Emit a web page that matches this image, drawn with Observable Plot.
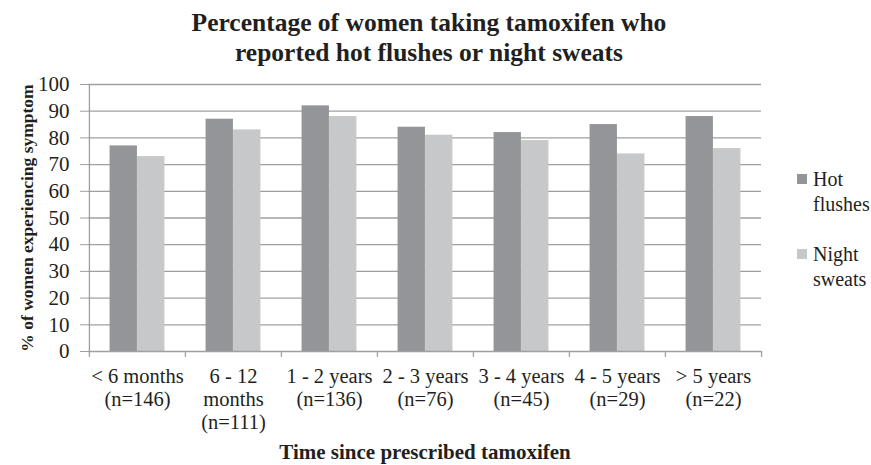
<!DOCTYPE html>
<html><head><meta charset="utf-8">
<script src="https://cdn.jsdelivr.net/npm/d3@7"></script>
<script src="https://cdn.jsdelivr.net/npm/@observablehq/plot@0.6"></script>
<style>
html,body{margin:0;padding:0;overflow:hidden;background:#fff;width:871px;height:465px}
body{font-family:"Liberation Serif","Times New Roman",serif;color:#231f20;position:relative}
#title{height:70px;box-sizing:border-box;padding-top:8px;width:858px;text-align:center;font-weight:bold;font-size:25.5px;line-height:30px}
#legend{position:absolute;left:797px;top:167px;font-size:20px;line-height:25px}
.item{display:flex;align-items:flex-start;margin-bottom:25px}
.sw{width:10px;height:10px;margin-top:7px;margin-right:6px;flex:none}
.lbl{width:70px}
</style></head>
<body>
<div id="title">Percentage of women taking tamoxifen who<br>reported hot flushes or night sweats</div>
<div id="chart"></div>
<div id="legend"></div>
<script>
const categories = ["< 6 months", "6 - 12 months", "1 - 2 years", "2 - 3 years", "3 - 4 years", "4 - 5 years", "> 5 years"];
const tickLabels = ["< 6 months\n(n=146)", "6 - 12\nmonths\n(n=111)", "1 - 2 years\n(n=136)", "2 - 3 years\n(n=76)", "3 - 4 years\n(n=45)", "4 - 5 years\n(n=29)", "> 5 years\n(n=22)"];
const seriesNames = ["Hot flushes", "Night sweats"];
const hotFlushes = [77, 87, 92, 84, 82, 85, 88];
const nightSweats = [73, 83, 88, 81, 79, 74, 76];
const yTicks = [0, 10, 20, 30, 40, 50, 60, 70, 80, 90, 100];
const yGrid = [10, 20, 30, 40, 50, 60, 70, 80, 90, 100];
const colors = ["#939598", "#c7c8ca"];
const yLabel = "% of women experiencing symptom";
const xLabel = "Time since prescribed tamoxifen";

const textColor = "#231f20";
const axisColor = "#a0a0a0";
const W = 871, H = 395, mL = 88, mR = 110, mT = 14, mB = 114;
const plotW = W - mL - mR, plotH = H - mT - mB;
const step = plotW / categories.length;
const bw = 27.5;
const gap = (step - 2 * bw) / 2;

const hotRows = categories.map((c, i) => ({cat: c, v: hotFlushes[i]}));
const nightRows = categories.map((c, i) => ({cat: c, v: nightSweats[i]}));
const last = categories[categories.length - 1];

const chart = Plot.plot({
  width: W, height: H,
  marginLeft: mL, marginRight: mR, marginTop: mT, marginBottom: mB,
  x: {domain: categories, padding: 0},
  y: {domain: [0, 100]},
  style: {fontFamily: "Liberation Serif, Times New Roman, serif", fontSize: "20px", color: textColor, background: "#fff"},
  marks: [
    Plot.gridY(yGrid, {stroke: axisColor, strokeOpacity: 1, strokeWidth: 1.3}),
    Plot.barY(hotRows, {x: "cat", y: "v", fill: colors[0], insetLeft: gap, insetRight: gap + bw}),
    Plot.barY(nightRows, {x: "cat", y: "v", fill: colors[1], insetLeft: gap + bw, insetRight: gap}),
    Plot.ruleY([0], {stroke: axisColor, strokeWidth: 1.3}),
    Plot.ruleX([categories[0]], {x: d => d, dx: -step / 2, stroke: axisColor, strokeWidth: 1.3, insetBottom: -6}),
    Plot.ruleX(categories.slice(1), {x: d => d, dx: -step / 2, stroke: axisColor, strokeWidth: 1.3, insetTop: plotH, insetBottom: -6}),
    Plot.ruleX([last], {x: d => d, dx: step / 2, stroke: axisColor, strokeWidth: 1.3, insetTop: plotH, insetBottom: -6}),
    Plot.axisY({ticks: yTicks, tickSize: 8, tickPadding: 11, stroke: axisColor, fill: textColor, fontSize: 21, label: null}),
    Plot.axisX({tickSize: 0, tickPadding: 15, fontSize: 20.5, lineHeight: 1.12, fill: textColor, label: null,
      tickFormat: c => tickLabels[categories.indexOf(c)]}),
    Plot.text([yLabel], {text: d => d, frameAnchor: "left", textAnchor: "middle", lineAnchor: "middle", dx: -61, rotate: -90, fontWeight: "bold", fontSize: 17.5, fill: textColor}),
    Plot.text([xLabel], {text: d => d, frameAnchor: "bottom", textAnchor: "middle", lineAnchor: "middle", dy: 101, fontWeight: "bold", fontSize: 21, fill: textColor})
  ]
});
document.getElementById("chart").appendChild(chart);

const legend = document.getElementById("legend");
seriesNames.forEach((name, i) => {
  const item = document.createElement("div");
  item.className = "item";
  const sw = document.createElement("div");
  sw.className = "sw";
  sw.style.background = colors[i];
  const lbl = document.createElement("div");
  lbl.className = "lbl";
  lbl.textContent = name;
  item.appendChild(sw);
  item.appendChild(lbl);
  legend.appendChild(item);
});
</script>
</body></html>
